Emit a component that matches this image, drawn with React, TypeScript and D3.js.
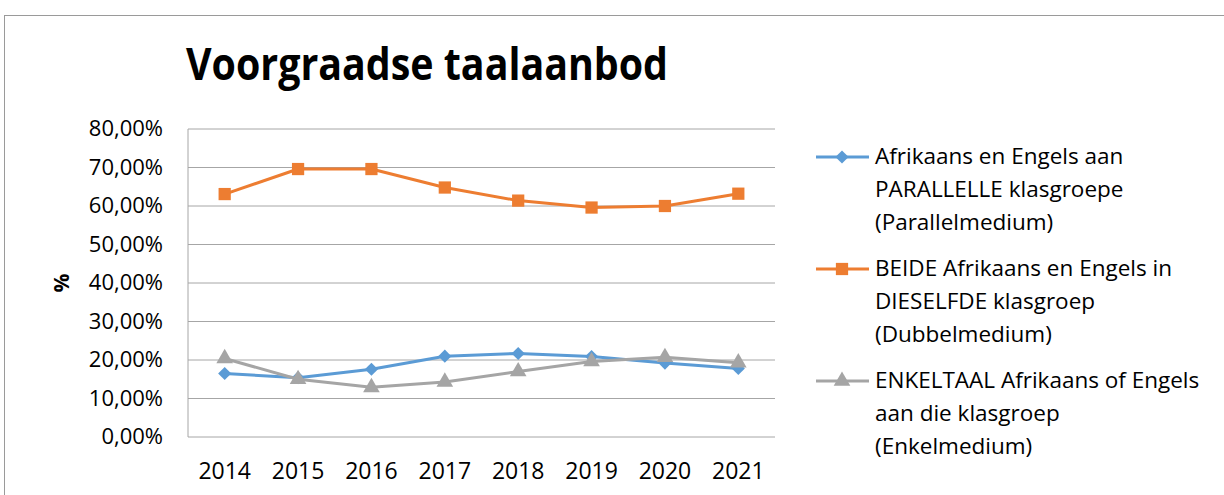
import React from "react";
import * as d3 from "d3";

const years = ["2014", "2015", "2016", "2017", "2018", "2019", "2020", "2021"];
const parallel = [16.5, 15.4, 17.6, 21.0, 21.7, 20.9, 19.2, 17.8];
const dubbel = [63.1, 69.6, 69.6, 64.8, 61.4, 59.6, 60.0, 63.2];
const enkel = [20.4, 15.0, 12.9, 14.3, 17.0, 19.6, 20.7, 19.3];
const yTicks = [0, 10, 20, 30, 40, 50, 60, 70, 80];
const legendLabels = [
  ["Afrikaans en Engels aan", "PARALLELLE klasgroepe", "(Parallelmedium)"],
  ["BEIDE Afrikaans en Engels in", "DIESELFDE klasgroep", "(Dubbelmedium)"],
  ["ENKELTAAL Afrikaans of Engels", "aan die klasgroep", "(Enkelmedium)"],
];
const colors = ["#5b9bd5", "#ed7d31", "#a5a5a5"];
const shapes = [d3.symbolDiamond2, d3.symbolSquare, d3.symbolTriangle];

const W = 1224, H = 495;
const left = 188, right = 775, top = 129, bottom = 437;
const font = "'Open Sans', sans-serif";

export default function App() {
  const x = d3.scaleBand<string>().domain(years).range([left, right]);
  const y = d3.scaleLinear().domain([0, 80]).range([bottom, top]);
  const series = [parallel, dubbel, enkel];
  const line = d3
    .line<number>()
    .x((_, i) => (x(years[i]) as number) + x.bandwidth() / 2)
    .y((d) => y(d));
  const symSizes = [110, 150, 120];
  const sym = (i: number) => d3.symbol().type(shapes[i]).size(symSizes[i])()!;
  return (
    <svg width={W} height={H} style={{ position: "absolute", left: 0, top: 0 }}>
      <rect x={0} y={0} width={W} height={H} fill="#fff" />
      <rect x={4.5} y={15.5} width={W + 10} height={H} fill="none" stroke="#9a9a9a" strokeWidth={1} />
      <text x={186} y={80} fontFamily={font} fontWeight="bold" fontSize={44} textLength={482} lengthAdjust="spacingAndGlyphs" fill="#000">
        Voorgraadse taalaanbod
      </text>
      {yTicks.map((t) => (
        <g key={t}>
          {t > 0 && <line x1={left} x2={right} y1={y(t)} y2={y(t)} stroke="#a6a6a6" strokeWidth={1} />}
          <text x={163} y={y(t) + 7} textAnchor="end" fontFamily={font} fontSize={22} fill="#000">
            {d3.format(".2f")(t).replace(".", ",") + "%"}
          </text>
        </g>
      ))}
      <line x1={left} x2={left} y1={top} y2={bottom} stroke="#a6a6a6" />
      <line x1={left} x2={right} y1={bottom} y2={bottom} stroke="#a6a6a6" />
      <text transform={`translate(69,${(top + bottom) / 2}) rotate(-90)`} textAnchor="middle" fontFamily={font} fontWeight="bold" fontSize={21}>
        %
      </text>
      {years.map((yr) => (
        <text key={yr} x={(x(yr) as number) + x.bandwidth() / 2} y={479} textAnchor="middle" fontFamily={font} fontSize={23}>
          {yr}
        </text>
      ))}
      {series.map((s, si) => (
        <g key={si}>
          <path d={line(s)!} fill="none" stroke={colors[si]} strokeWidth={3} strokeLinejoin="round" />
          {s.map((v, i) => (
            <path
              key={i}
              d={sym(si)}
              transform={`translate(${(x(years[i]) as number) + x.bandwidth() / 2},${y(v)})`}
              fill={colors[si]}
            />
          ))}
        </g>
      ))}
      {legendLabels.map((lines, li) => {
        const y0 = 157 + li * 112;
        return (
          <g key={li}>
            <line x1={816} x2={869} y1={y0} y2={y0} stroke={colors[li]} strokeWidth={3} />
            <path d={sym(li)} transform={`translate(842,${y0})`} fill={colors[li]} />
            {lines.map((t, k) => (
              <text key={k} x={875} y={y0 + 7 + k * 33} fontFamily={font} fontSize={22.5}>
                {t}
              </text>
            ))}
          </g>
        );
      })}
    </svg>
  );
}
